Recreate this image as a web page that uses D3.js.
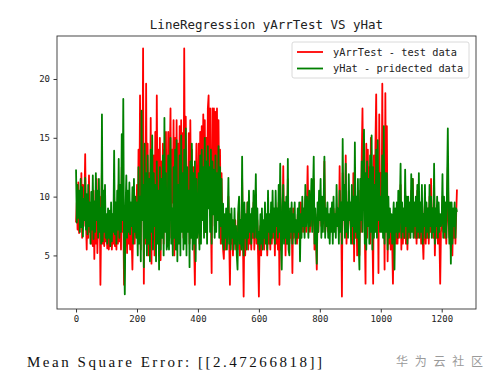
<!DOCTYPE html>
<html>
<head>
<meta charset="utf-8">
<script src="https://cdn.jsdelivr.net/npm/d3@7"></script>
<style>
html,body{margin:0;padding:0;background:#fff;}
svg{display:block;}
</style>
</head>
<body>
<svg id="chart" width="494" height="384"></svg>
<script>
// sample step along the index axis
const STEP = 2.5;
const xTicks = [0, 200, 400, 600, 800, 1000, 1200];
const yTicks = [5, 10, 15, 20];
const seriesNames = ["yArrTest - test data", "yHat - pridected data"];
const titleText = "LineRegression yArrTest VS yHat";
const footerText = "Mean Square Error: [[2.47266818]]";
const watermark = "华 为 云 社 区";

// yArrTest (test data)
const yArrTest = [
 7.8, 9.5, 7.2,11.2, 6.9,10.4, 8.0,12.0, 6.5,11.0, 7.5, 9.5,13.6, 8.0, 5.5,10.0, 6.5,11.8, 7.0, 9.0,
 6.0, 8.6, 5.8,10.5, 4.7, 9.0, 6.0,11.5, 5.2, 8.5, 7.0,10.0, 2.5, 8.0,12.5, 6.0, 9.5, 5.8, 8.0, 6.2,
 7.0, 5.6, 7.5, 5.5, 6.4, 5.8, 7.6, 5.5, 7.0, 6.0,10.0, 5.8, 8.2, 5.5, 9.0, 6.0,11.0, 6.2, 9.5, 5.5,
12.5, 7.0, 9.0, 2.5, 4.5, 7.2, 9.8, 5.2, 8.6, 6.0, 9.0, 5.5, 8.0, 6.5, 3.8, 8.5, 9.5, 6.0, 8.8, 6.8,
11.0, 6.5,14.0, 8.0,18.6, 5.5,15.0, 9.0,22.6, 2.6,13.0, 6.0,19.6, 8.0,14.5, 5.0,12.0, 7.5,16.7, 4.3,
12.0, 6.5,13.5, 5.0,15.5, 7.0,18.6, 9.0,14.0, 5.0,15.0, 4.6,13.0, 7.0,14.5, 6.0,14.0, 9.5,15.5, 7.0,
 8.0,15.5, 7.0,13.0,17.5, 6.5,14.0, 9.5,16.5, 5.0,15.0, 7.5,16.5, 6.0,14.5, 8.5,16.0, 7.0,16.5, 9.0,
15.4, 6.5,22.6, 8.5,16.8,10.0,12.0, 7.5,15.4, 6.0,16.5, 9.0,14.0, 7.0,12.5, 6.0, 2.5, 9.5,14.5, 8.0,
 9.0,14.5, 6.0,15.5, 7.5,16.0, 9.5,17.0, 8.0,16.5, 7.0,15.0, 9.0,17.5,18.6,10.0,17.5, 8.5, 3.5,17.5,
 9.0,17.5, 7.5,17.2,10.0,17.5, 8.0,16.5, 9.5,14.0, 6.0,12.0, 7.0, 5.5, 4.7, 7.5, 5.5, 8.0, 6.0, 7.0,
10.0, 6.5, 2.5, 7.5, 6.0, 8.0, 5.0, 7.5, 6.5, 8.0, 5.5, 7.0, 5.5, 8.5, 9.0, 5.0, 7.0, 6.0,11.5, 7.0,
 1.5, 8.5, 5.0, 7.5, 6.0, 9.5, 5.5, 8.0, 6.0, 7.5, 5.5, 8.5, 6.5, 9.5, 5.5, 8.0,10.0, 6.0, 8.0, 5.0,
 1.5, 6.5, 7.5, 5.0, 8.0, 6.0, 7.0, 5.5, 8.5, 6.5, 7.5, 5.0, 9.0, 6.0, 8.0, 5.5, 8.5, 6.0, 9.0, 6.5,
 8.5, 5.0, 9.0, 6.0, 8.0, 5.5, 9.5, 2.5,11.0, 5.5, 6.0, 8.0,12.6, 7.0, 9.5, 5.0, 9.0, 6.0,11.5, 6.5,
 6.0, 8.0, 6.5, 8.5, 3.5, 9.0, 6.5, 8.0, 7.0, 7.5, 6.0, 8.5, 6.5, 9.0, 6.0, 9.5, 7.5, 9.0, 7.0, 8.5,
 8.0,10.0, 7.0, 9.0,12.6, 8.0, 9.5, 7.0, 8.5,10.5, 7.5, 9.0,11.5, 5.5, 8.0, 6.5, 3.8, 8.5, 7.0, 9.0,
 9.0,10.0, 7.5, 9.0, 8.0, 8.5,13.0, 7.0, 8.0, 7.5, 8.5, 7.0, 8.0, 7.0, 8.5, 7.5, 8.0, 7.0, 9.0, 8.0,
 7.5, 8.0, 9.0, 7.5, 8.5, 7.0,12.6, 8.5, 9.0, 1.5,12.0, 9.0,10.0, 7.0,13.5, 6.0, 8.5, 7.0,10.5, 9.0,
 8.0, 7.0, 9.5, 6.0,12.0, 4.5,12.0, 6.5, 9.0, 5.0,10.5, 6.0, 5.0,10.5, 7.0,13.5,17.5,10.0,13.0, 7.0,
 2.6,14.5, 6.5,14.0, 8.0,12.5, 6.0,15.0,12.5, 7.0, 2.6,13.5, 8.0,14.5,18.7, 9.0,12.0, 3.5,17.0, 9.0,
12.0, 8.0,19.6, 7.5,13.0, 3.8,18.8, 8.0,16.0, 4.5, 9.0, 6.0, 8.5, 5.5, 8.0, 6.0, 2.6, 8.0, 6.5, 8.0,
 6.0, 8.5, 6.0, 9.0, 6.5, 8.0,11.0, 5.5, 8.5, 6.0, 8.5, 6.5,10.5, 6.0, 9.0, 5.5, 9.0, 6.5, 8.0, 7.0,
10.5, 8.0,11.5, 7.0, 8.5, 6.5, 9.0, 6.0,10.5, 6.5,10.0, 7.0, 8.5, 6.0, 9.5, 6.5, 4.7, 8.0, 9.5, 6.0,
 8.5, 6.5, 9.0, 6.0,10.0, 7.0,11.5, 7.0, 9.0, 6.5,11.0, 5.0, 8.0, 6.5, 8.5, 6.0, 7.5, 6.5, 2.6, 7.0,
 7.5,10.0, 7.0, 9.0, 6.5, 8.5, 6.0, 9.0,12.5, 8.0, 6.5, 8.0, 5.5, 8.0, 5.0, 8.5, 6.5, 9.0, 6.0, 8.5,10.6
];

// yHat (predicted data)
const yHat = [
12.3, 7.8,11.0, 8.2,10.5, 7.0,11.5, 7.4,10.8, 6.6, 9.8, 8.0,11.6, 7.2,10.2, 6.8,11.0, 7.5, 9.5, 6.0,
10.4, 7.2,11.8, 6.4, 9.6, 7.0,12.0, 8.0,10.5, 6.5,11.5, 7.0, 9.0, 6.0,17.0, 6.2,10.5, 7.0,11.0, 6.5,
 8.5, 6.0, 9.0, 6.5, 8.8, 5.8, 9.5, 6.2, 8.5, 7.0,13.9, 6.8, 9.5, 6.0,10.5, 7.2,13.2, 6.5,11.0, 7.0,
15.3, 8.0,18.3, 5.5, 1.7, 9.0,11.8, 6.5,10.5, 7.0,11.2, 6.8, 9.5, 7.5,10.8, 6.0,11.5, 7.0,10.0, 6.5,
 9.5, 5.0,12.5, 6.0,10.0, 4.5,17.3, 8.0,11.0, 4.0,14.5, 6.5,12.0, 5.0,13.5, 6.0,11.5, 4.5,14.0, 7.0,
15.2, 5.5,12.0, 7.5,11.0, 4.5,13.0, 6.0,10.5, 3.8,12.5, 5.5,11.5, 6.5,13.5, 5.0,16.7, 7.0,12.0, 5.5,
 6.0,13.5, 5.5,12.0,15.0, 6.0, 9.0, 5.0,12.5, 6.5,14.0, 5.5,14.8, 4.5,11.0, 6.0,13.5, 5.0,15.2, 7.0,
12.0, 5.5,14.0, 6.0,15.8, 5.0,12.5, 7.0,10.5, 4.0,13.0, 6.5,14.5, 5.5,12.0, 6.0,13.0, 4.5,11.5, 6.5,
 7.5,12.0, 5.5,13.5, 6.0,14.0, 8.0,12.5, 6.5,15.0, 7.0,13.0, 6.0,14.3, 9.0,12.5, 7.0,14.0, 6.0,13.0,
 8.5,12.3, 6.5,13.5, 7.0,12.0, 8.0,14.3, 6.5,12.5, 7.5,11.5, 6.0, 9.4, 5.5, 8.5, 6.5, 9.0, 5.5, 8.0,
11.6, 6.0, 8.5, 5.5, 9.0, 6.5, 8.0, 5.5, 9.0, 6.0, 7.5, 5.0, 3.8, 9.0,10.0, 6.0, 8.0, 5.5,13.4, 6.5,
 5.0, 9.5, 6.5, 8.5, 5.5, 9.5, 6.5,10.5, 7.0, 8.5, 6.0, 9.0, 7.0,10.5, 6.5, 8.5,11.9, 6.5, 9.0, 6.0,
 7.0, 5.5, 8.5, 6.0, 9.0, 5.5, 8.0, 6.5, 9.5, 6.0, 8.5, 5.5,10.5, 7.0, 8.5, 6.0, 9.5, 6.5,10.5, 7.0,
 9.0, 6.0,10.5, 7.5, 9.0, 6.5,11.0, 7.0,12.8, 6.0, 3.8, 9.0,11.0, 6.0, 9.5, 6.5,10.0, 6.0,13.2, 5.5,
 5.0, 9.0, 7.0, 9.5, 6.0, 8.5, 7.0, 9.5, 6.0, 8.0, 6.5, 9.0, 7.0, 9.5, 4.5, 8.5, 6.5,10.0, 7.5, 9.0,
 6.5,11.0, 7.5,10.0, 9.0, 6.5,10.5, 7.5, 9.0,11.5, 7.0,10.0,13.4, 6.0, 9.0, 7.0, 4.3, 9.5, 7.0,10.5,
 8.0,11.5, 6.5,10.0, 7.0, 9.5,13.4, 6.5, 9.0, 7.5, 9.5, 6.5, 8.5, 6.0, 9.0, 7.0, 9.5, 6.0,10.0, 7.0,
 8.5, 6.5,11.0, 7.5, 9.0, 6.0,10.5, 7.0, 9.5, 6.0,14.9, 8.0,11.0, 6.5,12.8, 7.0, 9.5, 6.5,11.9, 8.0,
 9.5, 6.0,11.0, 7.5,10.0, 6.0,14.6, 7.0,10.0, 6.5,11.5, 6.0, 3.8,11.5, 8.0,13.0, 7.0,12.5,15.7, 6.0,
12.0, 5.5,13.0, 7.5,11.5, 6.0,13.5, 7.0,15.2, 5.5,12.5, 6.5,11.0, 7.0,14.0, 6.5,14.8, 8.0,12.0, 7.0,
10.0, 7.0,13.5, 6.5,16.0, 6.0,12.0, 7.0,12.0, 5.5,10.0, 6.5, 9.0, 7.0, 8.5, 6.0, 8.0, 9.5, 3.8, 9.0,
 7.0, 9.5, 6.5,10.5, 7.0, 9.0,12.8, 6.5, 9.5, 7.0, 9.0, 6.5,12.3, 7.5,10.0, 6.0,10.0, 7.0, 9.5, 6.5,
11.9, 7.0,11.5, 6.5, 9.5, 7.5,10.0, 6.5,11.0, 7.0,12.0, 6.5, 9.5, 7.0,11.0, 6.0, 8.5, 7.5,11.0, 6.5,
 9.5, 7.0, 9.0, 6.5,11.0, 7.5,10.0, 6.5, 9.0, 7.0,12.8, 6.0, 9.0, 7.5,10.0, 6.5, 9.5, 7.0, 8.5, 7.5,
 8.0,11.9, 6.5,10.0, 7.0, 9.5, 6.5,11.0,15.8, 9.0, 6.0, 9.5, 4.3, 9.5, 6.0, 9.0, 7.5, 9.5, 6.5, 9.0, 8.7
];

const svg = d3.select("#chart");
const frame = {left: 57, right: 476, top: 36, bottom: 309};

const n = yHat.length;
const xMax = (n - 1) * STEP;
const xPad = xMax * 0.05;
const x = d3.scaleLinear().domain([-xPad, xMax + xPad]).range([frame.left, frame.right]);

const all = yArrTest.concat(yHat);
const lo = d3.min(all), hi = d3.max(all);
const yPad = (hi - lo) * 0.05;
const y = d3.scaleLinear().domain([lo - yPad, hi + yPad]).range([frame.bottom, frame.top]);

const line = d3.line().x((d, i) => x(i * STEP)).y(d => y(d));

svg.append("clipPath").attr("id", "clip").append("rect")
  .attr("x", frame.left).attr("y", frame.top)
  .attr("width", frame.right - frame.left).attr("height", frame.bottom - frame.top);

const plot = svg.append("g").attr("clip-path", "url(#clip)");
plot.append("path").datum(yArrTest).attr("d", line)
  .attr("fill", "none").attr("stroke", "#ff0000").attr("stroke-width", 1.8).attr("stroke-linejoin", "round");
plot.append("path").datum(yHat).attr("d", line)
  .attr("fill", "none").attr("stroke", "#008000").attr("stroke-width", 1.8).attr("stroke-linejoin", "round");

// axes
const tickFont = "'DejaVu Sans Mono', monospace";
const xAxis = d3.axisBottom(x).tickValues(xTicks).tickFormat(d3.format("d"))
  .tickSize(3.5).tickPadding(3.5).tickSizeOuter(0);
const gx = svg.append("g").attr("transform", `translate(0,${frame.bottom})`).call(xAxis);
const yAxis = d3.axisLeft(y).tickValues(yTicks).tickFormat(d3.format("d"))
  .tickSize(3.5).tickPadding(3.5).tickSizeOuter(0);
const gy = svg.append("g").attr("transform", `translate(${frame.left},0)`).call(yAxis);
[gx, gy].forEach(g => {
  g.select(".domain").remove();
  g.selectAll(".tick line").attr("stroke", "#000").attr("stroke-width", 0.8);
  g.selectAll(".tick text").attr("font-family", tickFont).attr("font-size", 9).attr("fill", "#222");
});

// frame
svg.append("rect")
  .attr("x", frame.left).attr("y", frame.top)
  .attr("width", frame.right - frame.left).attr("height", frame.bottom - frame.top)
  .attr("fill", "none").attr("stroke", "#333").attr("stroke-width", 0.9);

// title
svg.append("text").attr("x", (frame.left + frame.right) / 2).attr("y", 29)
  .attr("text-anchor", "middle").attr("font-family", tickFont).attr("font-size", 12.5)
  .attr("fill", "#222").text(titleText);

// legend
const lg = svg.append("g");
lg.append("rect").attr("x", 292).attr("y", 42).attr("width", 177).attr("height", 36)
  .attr("rx", 2).attr("fill", "#fff").attr("fill-opacity", 0.8).attr("stroke", "#d0d0d0").attr("stroke-width", 0.8);
const colors = ["#ff0000", "#008000"];
seriesNames.forEach((name, i) => {
  const yy = 52 + i * 16.5;
  lg.append("line").attr("x1", 297).attr("x2", 323).attr("y1", yy).attr("y2", yy)
    .attr("stroke", colors[i]).attr("stroke-width", 1.8);
  lg.append("text").attr("x", 333).attr("y", yy).attr("dy", "0.35em")
    .attr("font-family", tickFont).attr("font-size", 10.3).attr("fill", "#222").text(name);
});

// footer
svg.append("text").attr("x", 27).attr("y", 367)
  .attr("font-family", "'Liberation Serif', serif").attr("font-size", 15).attr("fill", "#111")
  .attr("textLength", 295).attr("lengthAdjust", "spacing")
  .text(footerText);

svg.append("text").attr("x", 396).attr("y", 366)
  .attr("font-family", "'Noto Sans CJK SC', sans-serif").attr("font-size", 12).attr("fill", "#9a9a9a")
  .attr("textLength", 87).attr("lengthAdjust", "spacing")
  .text(watermark);
</script>
</body>
</html>
